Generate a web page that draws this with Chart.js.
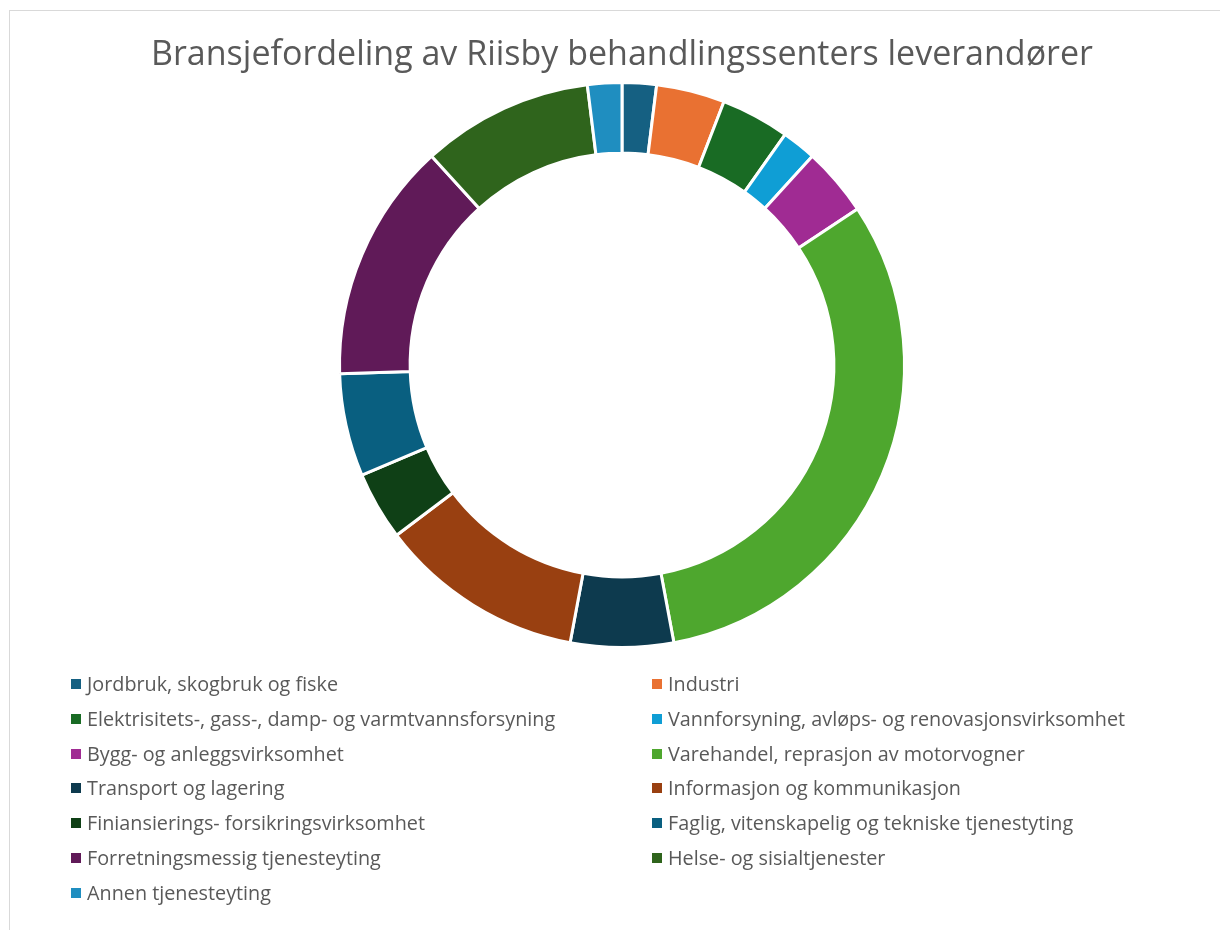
<!DOCTYPE html>
<html>
<head>
<meta charset="utf-8">
<script src="https://cdn.jsdelivr.net/npm/chart.js@4.4.1/dist/chart.umd.min.js"></script>
<style>
  html, body { margin: 0; padding: 0; background: #ffffff; }
  #frame { position: absolute; left: 9px; top: 10px; width: 1300px; height: 1000px; border: 1px solid #d9d9d9; box-sizing: border-box; }
  #wrap { position: absolute; left: 0; top: 0; width: 1220px; height: 930px; }
  #legend { position: absolute; left: 71px; top: 666px; width: 1140px; font-family: "Open Sans", Roboto, sans-serif; font-size: 19.8px; color: #595959; }
  .item { position: absolute; height: 35px; line-height: 35px; white-space: nowrap; }
  .box { position: absolute; left: 0; top: 13px; width: 10px; height: 10px; }
  .txt { position: absolute; left: 16px; top: 0; }
</style>
</head>
<body>
<div id="frame"></div>
<div id="wrap"><canvas id="c" width="1220" height="930"></canvas></div>
<div id="legend"></div>
<script>
const titleText = 'Bransjefordeling av Riisby behandlingssenters leverandører';
const categories = [
  'Jordbruk, skogbruk og fiske',
  'Industri',
  'Elektrisitets-, gass-, damp- og varmtvannsforsyning',
  'Vannforsyning, avløps- og renovasjonsvirksomhet',
  'Bygg- og anleggsvirksomhet',
  'Varehandel, reprasjon av motorvogner',
  'Transport og lagering',
  'Informasjon og kommunikasjon',
  'Finiansierings- forsikringsvirksomhet',
  'Faglig, vitenskapelig og tekniske tjenestyting',
  'Forretningsmessig tjenesteyting',
  'Helse- og sisialtjenester',
  'Annen tjenesteyting'
];
const counts = [1, 2, 2, 1, 2, 16, 3, 6, 2, 3, 7, 5, 1];
const sliceColors = ['#156082', '#E97132', '#196B24', '#0F9ED5', '#A02B93', '#4EA72E',
                     '#0D3A4E', '#994011', '#0F4016', '#095F80', '#601A58', '#2F641C', '#1F8EC0'];

const chart = new Chart(document.getElementById('c'), {
  type: 'doughnut',
  data: {
    labels: categories,
    datasets: [{
      data: counts,
      backgroundColor: sliceColors,
      borderColor: '#ffffff',
      borderWidth: 3
    }]
  },
  options: {
    responsive: false,
    animation: false,
    cutout: '75%',
    layout: { padding: { left: 24, right: 0, top: 0, bottom: 281 } },
    plugins: {
      legend: { display: false },
      tooltip: { enabled: false },
      title: {
        display: true,
        text: titleText,
        color: '#595959',
        font: { family: '"Open Sans", Roboto, sans-serif', size: 34, weight: 'normal', lineHeight: 1.2 },
        padding: { top: 34.5, bottom: 5.7 }
      }
    }
  }
});

const legendEl = document.getElementById('legend');
categories.forEach((lab, i) => {
  const col = i % 2, row = Math.floor(i / 2);
  const it = document.createElement('div');
  it.className = 'item';
  it.style.left = (col * 581) + 'px';
  it.style.top = (row * 34.8) + 'px';
  const b = document.createElement('div');
  b.className = 'box';
  b.style.background = chart.data.datasets[0].backgroundColor[i];
  const t = document.createElement('span');
  t.className = 'txt';
  t.textContent = lab;
  it.appendChild(b); it.appendChild(t);
  legendEl.appendChild(it);
});
</script>
</body>
</html>
